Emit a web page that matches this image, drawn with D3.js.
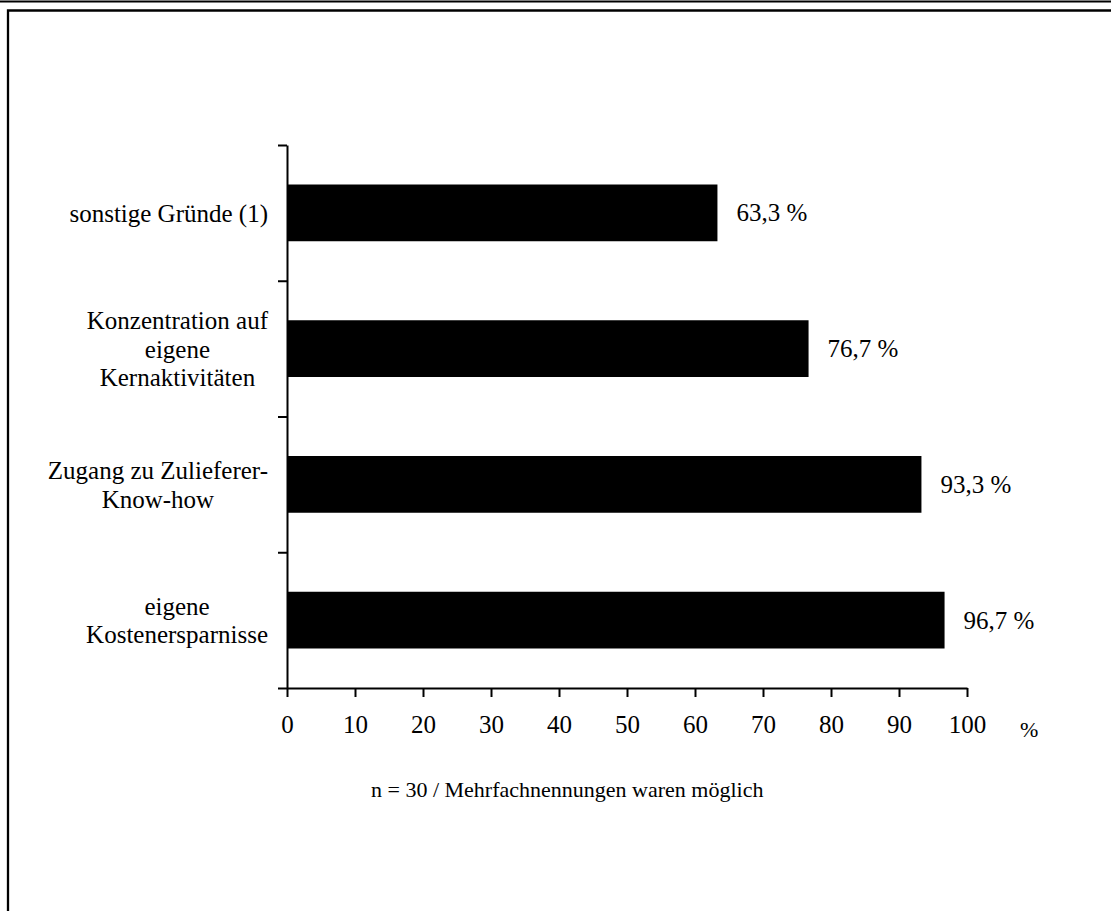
<!DOCTYPE html>
<html>
<head>
<meta charset="utf-8">
<script src="https://cdn.jsdelivr.net/npm/d3@7"></script>
<style>
  html, body { margin: 0; padding: 0; background: #fff; }
  svg { display: block; }
  text { font-family: "Liberation Serif", "Times New Roman", serif; fill: #000; }
</style>
</head>
<body>
<svg id="chart" width="1111" height="911"></svg>
<script>
// Reasons, listed top to bottom; each entry is the label split into lines
const categories = [
  ["sonstige Gründe (1)"],
  ["Konzentration auf", "eigene", "Kernaktivitäten"],
  ["Zugang zu Zulieferer-", "Know-how"],
  ["eigene", "Kostenersparnisse"]
];
const values = [63.3, 76.7, 93.3, 96.7];
const xTicks = [0, 10, 20, 30, 40, 50, 60, 70, 80, 90, 100];
const unitLabel = "%";
const footnote = "n = 30 / Mehrfachnennungen waren möglich";

const svg = d3.select("#chart");
const fontSize = 25;

// Page frame lines
svg.append("line").attr("x1", 0).attr("x2", 1111).attr("y1", 1.5).attr("y2", 1.5)
  .attr("stroke", "#000").attr("stroke-width", 2);
svg.append("path").attr("d", "M8,912 V10.5 H1112")
  .attr("fill", "none").attr("stroke", "#000").attr("stroke-width", 2.3);

const plotLeft = 287, plotRight = 967, plotTop = 145, plotBottom = 688;
const keys = categories.map(c => c.join(" "));

const x = d3.scaleLinear().domain([0, 100]).range([plotLeft, plotRight]);
const y = d3.scaleBand().domain(keys).range([plotTop, plotBottom]).padding(0);
const barFrac = 0.418;

// Bars
svg.append("g").selectAll("rect")
  .data(keys)
  .join("rect")
  .attr("x", x(0))
  .attr("y", (d) => y(d) + y.bandwidth() * (1 - barFrac) / 2)
  .attr("width", (d, i) => x(values[i]) - x(0))
  .attr("height", y.bandwidth() * barFrac)
  .attr("fill", "#000");

// X axis
const xAxis = svg.append("g")
  .attr("transform", `translate(0,${plotBottom})`)
  .call(d3.axisBottom(x).tickValues(xTicks).tickSize(9).tickSizeOuter(0).tickFormat(d3.format("d")));
xAxis.select(".domain").attr("stroke", "#000").attr("stroke-width", 2);
xAxis.selectAll(".tick line").attr("stroke", "#000").attr("stroke-width", 2);
xAxis.selectAll(".tick text")
  .attr("y", 45).attr("dy", 0)
  .style("font-family", "'Liberation Serif', 'Times New Roman', serif")
  .style("font-size", fontSize + "px").attr("fill", "#000");

// Y axis: ticks at category boundaries, no labels
const yEdge = d3.scaleLinear().domain([0, keys.length]).range([plotBottom, plotTop]);
const yAxis = svg.append("g")
  .attr("transform", `translate(${plotLeft},0)`)
  .call(d3.axisLeft(yEdge).ticks(keys.length).tickSize(9).tickSizeOuter(0).tickFormat(""));
yAxis.select(".domain").attr("stroke", "#000").attr("stroke-width", 2);
yAxis.selectAll(".tick line").attr("stroke", "#000").attr("stroke-width", 2);

// Category labels: lines centred within a block that is right-aligned to the axis
const lineH = 28.5;
const labelRight = 268;
categories.forEach((lines, i) => {
  const g = svg.append("g");
  const yc = y(keys[i]) + y.bandwidth() / 2;
  const texts = g.selectAll("text").data(lines).join("text")
    .attr("text-anchor", "middle")
    .style("font-size", fontSize + "px")
    .attr("y", (d, j) => yc + (j - (lines.length - 1) / 2) * lineH + 9)
    .text(d => d);
  let maxW = 0;
  texts.each(function () { maxW = Math.max(maxW, this.getComputedTextLength()); });
  texts.attr("x", labelRight - maxW / 2);
});

// Value labels
svg.append("g").selectAll("text")
  .data(keys)
  .join("text")
  .attr("x", (d, i) => x(values[i]) + 19)
  .attr("y", d => y(d) + y.bandwidth() / 2 + 8.5)
  .style("font-size", fontSize + "px")
  .text((d, i) => d3.format(".1f")(values[i]).replace(".", ",") + " %");

// Axis unit
svg.append("text")
  .attr("x", 1020).attr("y", 737)
  .style("font-size", "22px")
  .text(unitLabel);

// Footnote
svg.append("text")
  .attr("x", 371).attr("y", 797)
  .style("font-size", "22px")
  .text(footnote);
</script>
</body>
</html>
